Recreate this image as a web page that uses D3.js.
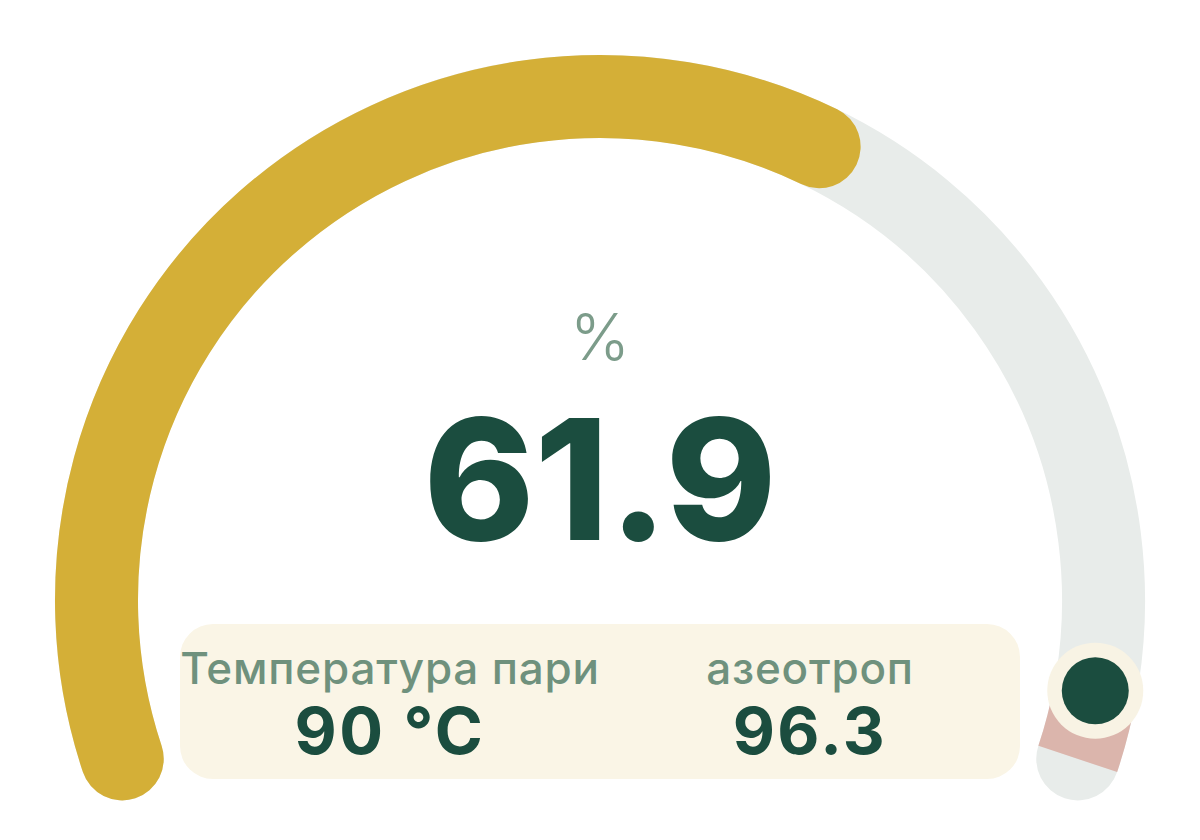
<!DOCTYPE html>
<html>
<head>
<meta charset="utf-8">
<script src="https://cdn.jsdelivr.net/npm/d3@7"></script>
<style>
  body { margin: 0; background: #ffffff; }
  text { font-family: Inter, "Open Sans", sans-serif; }
</style>
</head>
<body>
<script>
// gauge data
var gaugeDomain = [0, 100];
var currentValue = [61.9];
var markerValue = [96.3];
var zoneRange = [96.3, 100];
var unitLabel = ["%"];
var infoLabels = ["Температура пари", "азеотроп"];
var infoValues = ["90 °C", "96.3"];

var w = 1200;
var h = 840;
var cx = 600;
var cy = 600;
var radius = 503.5;
var thickness = 83;
var sweep = 108.4 * Math.PI / 180;

var colors = {
  track: "#e8ecea",
  fill: "#d4af37",
  zone: "#dbb5ac",
  dark: "#1b4d3f",
  label: "#6f917d",
  cream: "#faf5e6"
};

window.onload = function() {
  var svg = d3.select("body")
              .append("svg")
              .attr("width", w)
              .attr("height", h);

  // value -> angle (0 at 12 o'clock, clockwise)
  var angle = d3.scaleLinear()
                .domain(gaugeDomain)
                .range([-sweep, sweep]);

  var g = svg.append("g")
             .attr("transform", "translate(" + cx + "," + cy + ")");

  drawInfoBox(svg);
  drawGauge(g, angle);
  drawCenterText(svg);
};

function arcPath(a0, a1) {
  // centre line of the arc, d3.path angles start at 3 o'clock
  var p = d3.path();
  p.arc(0, 0, radius, a0 - Math.PI / 2, a1 - Math.PI / 2, false);
  return p.toString();
}

function drawGauge(g, angle) {
  // grey track
  g.append("path")
   .attr("d", arcPath(angle(gaugeDomain[0]), angle(gaugeDomain[1])))
   .attr("fill", "none")
   .attr("stroke", colors.track)
   .attr("stroke-width", thickness)
   .attr("stroke-linecap", "round");

  // pink azeotrope zone
  g.append("path")
   .attr("d", arcPath(angle(zoneRange[0]), angle(zoneRange[1])))
   .attr("fill", "none")
   .attr("stroke", colors.zone)
   .attr("stroke-width", thickness)
   .attr("stroke-linecap", "butt");

  // current value
  g.selectAll(".value-arc")
   .data(currentValue)
   .enter().append("path")
   .attr("class", "value-arc")
   .attr("d", function(d) { return arcPath(angle(gaugeDomain[0]), angle(d)); })
   .attr("fill", "none")
   .attr("stroke", colors.fill)
   .attr("stroke-width", thickness)
   .attr("stroke-linecap", "round");

  // marker at the azeotrope
  var marker = g.selectAll(".marker")
                .data(markerValue)
                .enter().append("g")
                .attr("class", "marker")
                .attr("transform", function(d) {
                  var a = angle(d);
                  return "translate(" + (radius * Math.sin(a)) + "," + (-radius * Math.cos(a)) + ")";
                });

  marker.append("circle")
        .attr("r", 48)
        .attr("fill", "#f8f3e4");

  marker.append("circle")
        .attr("r", 33.5)
        .attr("fill", colors.dark);
}

function drawInfoBox(svg) {
  svg.append("rect")
     .attr("x", 180)
     .attr("y", 624)
     .attr("width", 840)
     .attr("height", 155)
     .attr("rx", 33)
     .attr("fill", colors.cream);

  var columns = [390, 810];

  svg.selectAll(".info-label")
     .data(infoLabels)
     .enter().append("text")
     .attr("class", "info-label")
     .attr("x", function(d, i) { return columns[i]; })
     .attr("y", 684)
     .attr("text-anchor", "middle")
     .style("font-size", "44px")
     .style("font-weight", 500)
     .style("letter-spacing", "0.8px")
     .style("fill", colors.label)
     .text(function(d) { return d; });

  svg.selectAll(".info-value")
     .data(infoValues)
     .enter().append("text")
     .attr("class", "info-value")
     .attr("x", function(d, i) { return columns[i]; })
     .attr("y", 754)
     .attr("text-anchor", "middle")
     .style("font-size", "65px")
     .style("font-weight", 700)
     .style("letter-spacing", "2.5px")
     .style("fill", colors.dark)
     .text(function(d) { return d; });
}

function drawCenterText(svg) {
  svg.append("text")
     .attr("x", 600)
     .attr("y", 360)
     .attr("text-anchor", "middle")
     .style("font-size", "64px")
     .style("font-weight", 300)
     .style("fill", "#7c9c8a")
     .text(unitLabel[0]);

  svg.selectAll(".big-value")
     .data(currentValue)
     .enter().append("text")
     .attr("class", "big-value")
     .attr("x", 600)
     .attr("y", 540)
     .attr("text-anchor", "middle")
     .style("font-size", "168px")
     .style("font-weight", 800)
     .style("fill", colors.dark)
     .text(function(d) { return d3.format(".1f")(d); });
}
</script>
</body>
</html>
